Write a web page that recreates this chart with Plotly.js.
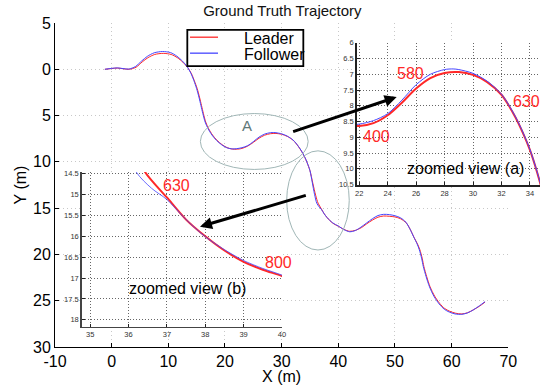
<!DOCTYPE html>
<html><head><meta charset="utf-8">
<script src="https://cdn.plot.ly/plotly-3.0.1.min.js"></script>
<style>html,body{margin:0;padding:0;background:#fff}#chart{width:540px;height:385px}</style>
</head><body><div id="chart"></div>
<script>
// ---- data ----
const seriesNames = ['Leader', 'Follower'];
const leaderX = [-1.2,0.0,1.0,2.0,3.1,4.3,5.4,6.4,7.6,9.1,10.5,11.6,12.6,13.4,14.1,14.6,15.1,15.5,15.85,16.2,16.6,17.1,17.8,18.6,19.5,20.4,21.3,22.0,23.0,24.0,25.0,26.0,27.0,28.0,29.0,30.0,31.0,32.0,32.5,33.0,33.5,34.0,34.5,35.0,35.5,36.0,36.43,37.0,37.5,38.0,38.5,39.0,39.5,40.0,41.0,42.0,43.0,44.1,45.0,46.0,47.0,48.0,49.0,50.0,51.0,52.0,52.7,53.4,54.0,54.4,54.8,55.1,55.6,56.2,57.0,57.9,58.8,59.7,60.7,61.8,62.8,63.8,64.9,65.9];
const leaderY = [0.0,-0.08,-0.13,-0.06,0.0,-0.22,-0.8,-1.25,-1.6,-1.72,-1.6,-1.25,-0.75,-0.2,0.5,1.25,2.1,3.0,3.9,4.8,5.7,6.4,7.1,7.68,8.15,8.47,8.62,8.64,8.55,8.3,7.9,7.45,7.12,6.96,6.93,7.02,7.25,7.65,7.98,8.38,8.85,9.4,10.1,10.95,12.3,13.6,14.46,15.07,15.6,16.0,16.34,16.61,16.8,16.95,17.3,17.5,17.4,17.1,16.7,16.3,15.98,15.85,15.88,15.95,16.15,16.6,17.3,18.2,18.9,19.5,20.4,21.3,22.4,23.5,24.5,25.3,25.85,26.15,26.35,26.43,26.3,26.0,25.6,25.15];
const followerX = [-1.2,0.0,1.0,2.0,3.0,4.2,5.3,6.3,7.5,9.0,10.4,11.5,12.5,13.3,14.0,14.5,15.0,15.4,15.75,16.1,16.5,17.0,17.7,18.5,19.4,20.3,21.2,22.0,23.0,24.0,25.0,26.0,27.0,28.0,28.6,29.0,30.0,31.0,32.0,32.5,33.0,33.5,34.0,34.5,35.0,35.4,35.8,36.2,36.6,37.0,37.5,38.0,38.5,39.0,39.5,40.0,41.0,42.0,43.0,44.0,45.0,46.0,47.0,48.0,49.0,50.0,51.0,51.9,52.6,53.3,53.9,54.3,54.7,55.0,55.5,56.1,56.9,57.8,58.7,59.6,60.6,61.8,62.8,63.8,64.9,65.9];
const followerY = [0.0,-0.1,-0.15,-0.08,-0.02,-0.3,-0.9,-1.4,-1.78,-1.92,-1.8,-1.42,-0.88,-0.3,0.45,1.2,2.1,3.0,3.9,4.8,5.7,6.4,7.1,7.68,8.15,8.47,8.6,8.58,8.47,8.25,7.82,7.33,7.0,6.85,6.83,6.85,6.97,7.22,7.63,7.96,8.36,8.83,9.38,10.08,10.95,12.2,13.5,14.46,14.85,15.12,15.6,16.01,16.32,16.58,16.77,16.93,17.32,17.55,17.42,17.05,16.6,16.15,15.8,15.67,15.7,15.82,16.05,16.5,17.2,18.1,18.85,19.5,20.4,21.3,22.4,23.5,24.55,25.35,25.92,26.23,26.43,26.47,26.32,26.0,25.55,25.1];
const mainXTicks = [-10,0,10,20,30,40,50,60,70];
const mainXTickText = ['-10','0','10','20','30','40','50','60','70'];
const mainYTicks = [-5,0,5,10,15,20,25,30];
const mainYTickText = ['5','0','5','10','15','20','25','30'];
const insetAXTicks = [22,24,26,28,30,32,34];
const insetAYTicks = [6,6.5,7,7.5,8,8.5,9,9.5,10,10.5];
const insetBXTicks = [35,36,37,38,39,40];
const insetBYTicks = [14.5,15,15.5,16,16.5,17,17.5,18];
const labelsA = ['580','400','630'];
const labelsB = ['630','800'];
const captionA = 'zoomed view (a)';
const captionB = 'zoomed view (b)';
const regionLabel = 'A';

const RED = 'rgb(255,40,40)';
const BLUE = 'rgb(70,70,255)';
const seriesColors = [RED, BLUE];
const FONT = 'Liberation Sans, Arial, Helvetica, sans-serif';

function line(x, y, color, width, xa, ya, name) {
  return {x: x, y: y, type: 'scatter', mode: 'lines', name: name, showlegend: false,
    xaxis: xa, yaxis: ya, hoverinfo: 'skip',
    line: {color: color, width: width, shape: 'spline', smoothing: 0.8}};
}

const traces = [
  line(leaderX, leaderY, RED, 1, 'x', 'y', seriesNames[0]),
  line(followerX, followerY, BLUE, 1, 'x', 'y', seriesNames[1]),
  line(leaderX, leaderY, RED, 2, 'x2', 'y2', seriesNames[0]),
  line(followerX, followerY, BLUE, 1, 'x2', 'y2', seriesNames[1]),
  line(leaderX, leaderY, RED, 2, 'x3', 'y3', seriesNames[0]),
  line(followerX, followerY, BLUE, 0.8, 'x3', 'y3', seriesNames[1])
];

function insetAxis(extra) {
  return Object.assign({
    showline: true, linecolor: '#222', linewidth: 1.5, mirror: false,
    ticks: 'inside', ticklen: 3, tickcolor: '#222', tickwidth: 1,
    tickfont: {size: 7.5, color: '#333', family: FONT},
    showgrid: true, gridcolor: '#666', griddash: '1px,2px', gridwidth: 1,
    zeroline: false, tickmode: 'array'
  }, extra);
}

const mainAxis = {
  showline: true, linecolor: '#000', linewidth: 1, mirror: false,
  ticks: 'inside', ticklen: 4, tickcolor: '#000',
  tickfont: {size: 16, color: '#000', family: FONT},
  showgrid: true, gridcolor: '#c8c8c8', griddash: '1px,3px', gridwidth: 1,
  zeroline: false, tickmode: 'array'
};

// legend (drawn as a box with sample lines and real text)
const legendBox = {x0: 0.2728, x1: 0.512, y0: 0.8669, y1: 0.979};
const legendRows = [0.9562, 0.9069];
const legendShapes = [
  {type: 'rect', xref: 'paper', yref: 'paper', x0: legendBox.x0, x1: legendBox.x1, y0: legendBox.y0, y1: legendBox.y1,
    line: {color: '#000', width: 1.8}, fillcolor: '#fff', layer: 'above'}
];
const legendAnnots = [];
seriesNames.forEach(function (nm, i) {
  legendShapes.push({type: 'line', xref: 'paper', yref: 'paper', x0: 0.2784, x1: 0.3361,
    y0: legendRows[i], y1: legendRows[i], line: {color: seriesColors[i], width: 1.3}, layer: 'above'});
  legendAnnots.push({xref: 'paper', yref: 'paper', x: 0.3849, y: legendRows[i] - 0.005, xanchor: 'left', yanchor: 'middle',
    text: nm, showarrow: false, font: {size: 16, color: '#000', family: FONT}});
});

const layout = {
  width: 540, height: 385,
  margin: {l: 55, r: 0, t: 22.5, b: 38, pad: 0},
  paper_bgcolor: '#fff', plot_bgcolor: '#fff',
  font: {family: FONT, color: '#000'},
  title: {text: 'Ground Truth Trajectory', font: {size: 15, family: FONT, color: '#111'},
    x: 0.523, xref: 'container', xanchor: 'center', y: 0.971, yref: 'container', yanchor: 'middle'},
  showlegend: false,
  xaxis: Object.assign({}, mainAxis, {domain: [0, 0.9346], range: [-10, 70], tickvals: mainXTicks, ticktext: mainXTickText,
    title: {text: 'X (m)', font: {size: 16, family: FONT}, standoff: 0}, anchor: 'y'}),
  yaxis: Object.assign({}, mainAxis, {domain: [0, 1], range: [30, -5], tickvals: mainYTicks, ticktext: mainYTickText,
    title: {text: 'Y (m)', font: {size: 16, family: FONT}, standoff: 2}, anchor: 'x'}),
  xaxis2: insetAxis({domain: [0.622, 1], range: [21.82, 34.71], tickvals: insetAXTicks, anchor: 'y2'}),
  yaxis2: insetAxis({domain: [0.4992, 0.939], range: [10.52, 6], tickvals: insetAYTicks, anchor: 'x2'}),
  xaxis3: insetAxis({domain: [0.0551, 0.468], range: [34.78, 40], tickvals: insetBXTicks, anchor: 'y3', linecolor: '#444'}),
  yaxis3: insetAxis({domain: [0.0632, 0.5402], range: [18.16, 14.46], tickvals: insetBYTicks, anchor: 'x3', linecolor: '#444'}),
  shapes: [
    {type: 'circle', xref: 'x', yref: 'y', x0: 15.66, x1: 34.68, y0: 4.78, y1: 10.82,
      line: {color: 'rgb(160,182,182)', width: 1}, layer: 'above'},
    {type: 'circle', xref: 'x', yref: 'y', x0: 30.89, x1: 41.93, y0: 8.81, y1: 19.52,
      line: {color: 'rgb(160,182,182)', width: 1}, layer: 'above'}
  ].concat(legendShapes),
  annotations: [
    {xref: 'x', yref: 'y', x: 23.93, y: 6.05, text: regionLabel, showarrow: false,
      font: {size: 15, color: 'rgb(95,120,120)', family: FONT}},
    {xref: 'x2', yref: 'y2', x: 25.57, y: 6.98, text: labelsA[0], showarrow: false,
      font: {size: 16, color: RED, family: FONT}},
    {xref: 'x2', yref: 'y2', x: 23.22, y: 8.97, text: labelsA[1], showarrow: false,
      font: {size: 16, color: RED, family: FONT}},
    {xref: 'x2', yref: 'y2', x: 33.77, y: 7.85, text: labelsA[2], showarrow: false,
      font: {size: 16, color: RED, family: FONT}},
    {xref: 'x2', yref: 'y2', x: 29.44, y: 9.99, text: captionA, showarrow: false,
      font: {size: 16, color: '#000', family: FONT}},
    {xref: 'x3', yref: 'y3', x: 37.26, y: 14.78, text: labelsB[0], showarrow: false,
      font: {size: 16, color: RED, family: FONT}},
    {xref: 'x3', yref: 'y3', x: 39.9, y: 16.63, text: labelsB[1], showarrow: false,
      font: {size: 16, color: RED, family: FONT}},
    {xref: 'x3', yref: 'y3', x: 37.55, y: 17.26, text: captionB, showarrow: false,
      font: {size: 16, color: '#000', family: FONT}},
    {xref: 'x', yref: 'y', x: 50.3, y: 3.0, ax: -105, ay: 35, text: '', showarrow: true,
      arrowhead: 2, arrowsize: 0.8, arrowwidth: 3, arrowcolor: '#000', standoff: 0, startstandoff: 0},
    {xref: 'x', yref: 'y', x: 15.59, y: 17.0, ax: 107.3, ay: -31.7, text: '', showarrow: true,
      arrowhead: 2, arrowsize: 0.8, arrowwidth: 3, arrowcolor: '#000', standoff: 0, startstandoff: 0}
  ].concat(legendAnnots)
};

Plotly.newPlot('chart', traces, layout, {staticPlot: true, displayModeBar: false});
</script>
</body></html>
